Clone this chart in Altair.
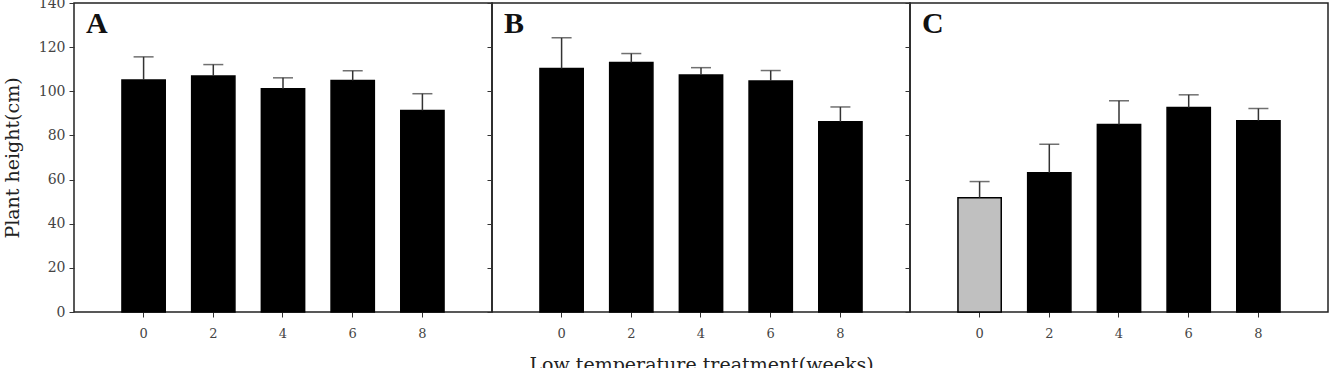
import altair as alt
import pandas as pd

# Weeks of low-temperature treatment (x categories)
weeks = ["0", "2", "4", "6", "8"]
panels = ["A", "B", "C"]

# Mean plant height (cm) and standard error per panel
height_a = [105.1, 106.9, 101.1, 104.9, 91.3]
err_a = [10.5, 5.2, 5.0, 4.4, 7.6]
height_b = [110.3, 113.0, 107.4, 104.7, 86.2]
err_b = [13.9, 4.1, 3.3, 4.7, 6.7]
height_c = [51.8, 63.1, 85.0, 92.6, 86.7]
err_c = [7.3, 12.9, 10.7, 5.8, 5.5]

series = {"A": (height_a, err_a), "B": (height_b, err_b), "C": (height_c, err_c)}

SERIF = "DejaVu Serif"
PANEL_W = 418
PANEL_H = 309


def make_panel(name, idx):
    heights, errs = series[name]
    df = pd.DataFrame({
        "panel": name,
        "week": weeks,
        "height": heights,
        "upper": [h + e for h, e in zip(heights, errs)],
    })

    x = alt.X(
        "week:O",
        sort=weeks,
        scale=alt.Scale(paddingInner=0.379, paddingOuter=0.688),
        axis=alt.Axis(
            labelAngle=0,
            title="Low temperature treatment(weeks)" if idx == 1 else None,
        ),
    )
    yscale = alt.Scale(domain=[0, 140], nice=False)
    yaxis = alt.Axis(
        values=[0, 20, 40, 60, 80, 100, 120, 140],
        labels=(idx == 0),
        title="Plant height(cm)" if idx == 0 else None,
    )

    base = alt.Chart(df)
    bars = base.mark_bar(stroke="black", strokeWidth=1.5).encode(
        x=x,
        y=alt.Y("height:Q", scale=yscale, axis=yaxis),
        fill=alt.condition(
            "datum.panel == 'C' && datum.week == '0'",
            alt.value("#c0c0c0"),
            alt.value("black"),
        ),
    )
    whisker = base.mark_rule(color="#333333", strokeWidth=1.5).encode(
        x=x, y=alt.Y("height:Q", scale=yscale), y2="upper:Q"
    )
    cap = base.mark_tick(color="#333333", thickness=1.5, size=20).encode(
        x=x, y=alt.Y("upper:Q", scale=yscale)
    )
    letter = alt.Chart(pd.DataFrame({"label": [name]})).mark_text(
        align="left", baseline="alphabetic", font="Liberation Serif",
        fontWeight="bold", fontSize=30, color="#111111",
    ).encode(x=alt.value(12), y=alt.value(30), text="label:N")

    return alt.layer(bars, whisker, cap, letter).properties(
        width=PANEL_W, height=PANEL_H
    )


chart = alt.hconcat(
    *[make_panel(p, i) for i, p in enumerate(panels)], spacing=0, bounds="flush"
).properties(
    padding={"left": 2, "top": -5, "right": 0, "bottom": 0}
).configure_view(
    stroke="#222222", strokeWidth=1.5
).configure_axis(
    domain=False,
    grid=False,
    tickColor="#333333",
    tickSize=5,
    labelFont=SERIF,
    labelColor="#444444",
    titleFont=SERIF,
    titleFontSize=19,
    titleFontWeight="normal",
    titleColor="#222222",
).configure_axisX(
    labelFontSize=13, labelPadding=10, titlePadding=15
).configure_axisY(
    labelFontSize=14, labelPadding=4, titlePadding=16
)

chart.save("out.html", embed_options={"renderer": "svg", "actions": False})
